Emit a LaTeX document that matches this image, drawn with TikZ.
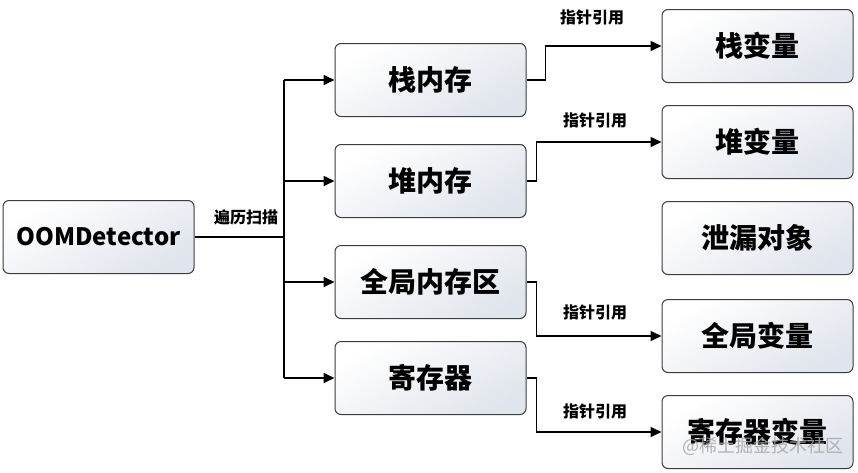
\documentclass[tikz,border=0pt]{standalone}
\usepackage{fontspec}
\setmainfont{Noto Sans CJK SC}
\usetikzlibrary{arrows.meta,calc}
\definecolor{boxend}{RGB}{224,228,236}
\definecolor{boxline}{RGB}{60,60,60}
\begin{document}
\begin{tikzpicture}[x=1pt,y=-1pt,
  box/.style={draw=boxline,line width=1pt,rounded corners=6pt,minimum width=191pt,minimum height=73pt,
    top color=white,bottom color=boxend,shading angle=30,inner sep=0pt,
    font=\fontsize{28}{32}\selectfont\bfseries},
  conn/.style={line width=1.6pt,black},
  arr/.style={conn,-{Triangle[length=11pt,width=10pt]}},
  lbl/.style={font=\fontsize{16}{18}\selectfont\bfseries,inner sep=0pt}]
\useasboundingbox (0,0) rectangle (858,472);
\node[box,font=\fontsize{24}{28}\selectfont\bfseries] (oom) at (98.5,237) {OOMDetector};
\node[box] (m1) at (430.5,80) {栈内存};
\node[box] (m2) at (430.5,181) {堆内存};
\node[box] (m3) at (430.5,282) {全局内存区};
\node[box] (m4) at (430.5,378) {寄存器};
\node[box] (v1) at (757.5,46) {栈变量};
\node[box] (v2) at (757.5,142) {堆变量};
\node[box] (v3) at (757.5,238) {泄漏对象};
\node[box] (v4) at (757.5,336) {全局变量};
\node[box] (v5) at (757.5,432) {\raisebox{2pt}{寄存器变量}};
\node[font=\fontsize{18}{20}\selectfont,text=gray!70,opacity=0.85] (wm) at (763,446) {@稀土掘金技术社区};
\coordinate (bus) at (284,237);
\draw[conn] (oom.east) -- (bus);
\draw[line width=2.2pt] (bus |- m1.west) -- (bus |- m4.west);
\draw[arr] (bus |- m1.west) -- (m1.west);
\draw[arr] (bus |- m2.west) -- (m2.west);
\draw[arr] (bus |- m3.west) -- (m3.west);
\draw[arr] (bus |- m4.west) -- (m4.west);
\node[lbl] (l0) at (246,217) {遍历扫描};
\draw[arr] (m1.east) -- ++(19,0) |- (v1.west);
\draw[arr] (m2.east) -- ++(10,0) |- (v2.west);
\draw[arr] (m3.east) -- ++(10,0) |- (v4.west);
\draw[arr] (m4.east) -- ++(10,0) |- (v5.west);
\node[lbl] (l1) at (592,17) {指针引用};
\node[lbl] (l2) at (595,120) {指针引用};
\node[lbl] (l3) at (595,312) {指针引用};
\node[lbl] (l4) at (595,411) {指针引用};
\end{tikzpicture}
\end{document}
